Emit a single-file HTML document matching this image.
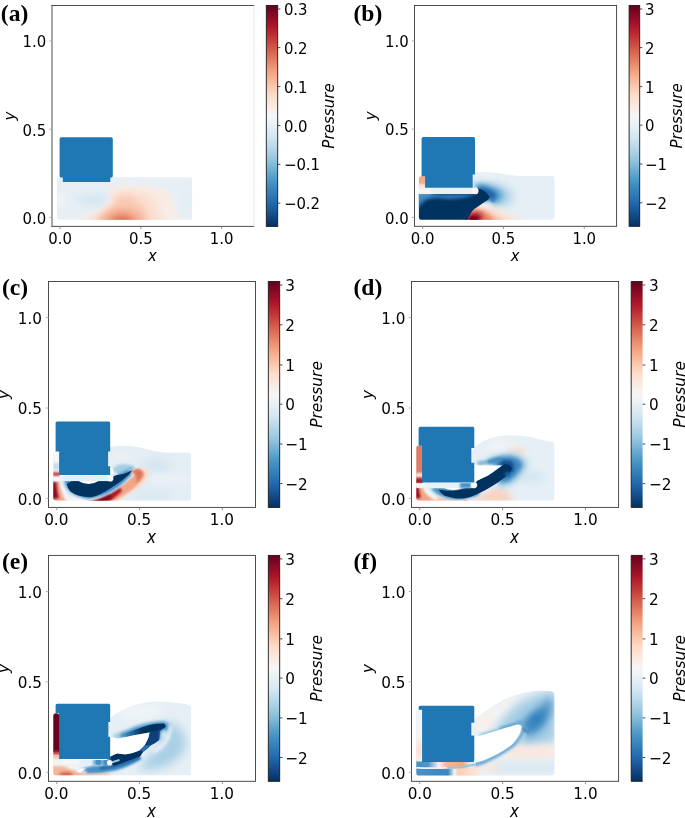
<!DOCTYPE html>
<html><head><meta charset="utf-8"><title>Pressure field panels</title>
<style>
html,body{margin:0;padding:0;background:#fff}
svg{display:block}
.t{font-family:"DejaVu Sans","Liberation Sans",sans-serif;fill:#000}
.i{font-family:"DejaVu Sans","Liberation Sans",sans-serif;font-style:italic;fill:#000}
.pl{font-family:"Liberation Serif","DejaVu Serif",serif;font-weight:bold;fill:#000}
</style></head><body>
<svg width="685" height="818" viewBox="0 0 685 818">
<defs><linearGradient id="cb" x1="0" y1="0" x2="0" y2="1"><stop offset="0.00%" stop-color="#67001f"/><stop offset="3.12%" stop-color="#7c0722"/><stop offset="6.25%" stop-color="#930e26"/><stop offset="9.38%" stop-color="#ab162a"/><stop offset="12.50%" stop-color="#ba2832"/><stop offset="15.62%" stop-color="#c53e3d"/><stop offset="18.75%" stop-color="#d05548"/><stop offset="21.88%" stop-color="#db6b55"/><stop offset="25.00%" stop-color="#e48066"/><stop offset="28.12%" stop-color="#ee9677"/><stop offset="31.25%" stop-color="#f5aa89"/><stop offset="34.38%" stop-color="#f8bb9e"/><stop offset="37.50%" stop-color="#fbccb4"/><stop offset="40.62%" stop-color="#fddcc9"/><stop offset="43.75%" stop-color="#fbe5d8"/><stop offset="46.88%" stop-color="#f9eee7"/><stop offset="50.00%" stop-color="#f7f6f6"/><stop offset="53.12%" stop-color="#ecf2f5"/><stop offset="56.25%" stop-color="#e0ecf3"/><stop offset="59.38%" stop-color="#d4e6f1"/><stop offset="62.50%" stop-color="#c2ddec"/><stop offset="65.62%" stop-color="#aed3e6"/><stop offset="68.75%" stop-color="#9bc9e0"/><stop offset="71.88%" stop-color="#84bcd9"/><stop offset="75.00%" stop-color="#6bacd1"/><stop offset="78.12%" stop-color="#529dc8"/><stop offset="81.25%" stop-color="#3f8ec0"/><stop offset="84.38%" stop-color="#3480b9"/><stop offset="87.50%" stop-color="#2a71b2"/><stop offset="90.62%" stop-color="#1f63a8"/><stop offset="93.75%" stop-color="#175290"/><stop offset="96.88%" stop-color="#0e4179"/><stop offset="100.00%" stop-color="#053061"/></linearGradient>
<filter id="b1" filterUnits="userSpaceOnUse" x="0" y="0" width="685" height="818"><feGaussianBlur stdDeviation="1"/></filter>
<filter id="b15" filterUnits="userSpaceOnUse" x="0" y="0" width="685" height="818"><feGaussianBlur stdDeviation="1.5"/></filter>
<filter id="b2" filterUnits="userSpaceOnUse" x="0" y="0" width="685" height="818"><feGaussianBlur stdDeviation="2"/></filter>
<filter id="b3" filterUnits="userSpaceOnUse" x="0" y="0" width="685" height="818"><feGaussianBlur stdDeviation="3"/></filter>
<filter id="b4" filterUnits="userSpaceOnUse" x="0" y="0" width="685" height="818"><feGaussianBlur stdDeviation="4"/></filter>
<filter id="b5" filterUnits="userSpaceOnUse" x="0" y="0" width="685" height="818"><feGaussianBlur stdDeviation="5"/></filter>
<filter id="b7" filterUnits="userSpaceOnUse" x="0" y="0" width="685" height="818"><feGaussianBlur stdDeviation="7"/></filter>
<filter id="b05" filterUnits="userSpaceOnUse" x="0" y="0" width="685" height="818"><feGaussianBlur stdDeviation="0.5"/></filter>
</defs>
<rect width="685" height="818" fill="#fff"/>
<g id="panel-a">
<clipPath id="ca"><rect x="56.9" y="177.3" width="135.2" height="42.4" rx="2.2"/></clipPath>
<g clip-path="url(#ca)">
<rect x="50" y="170" width="150" height="56" fill="#e7eff5"/>
<ellipse cx="93" cy="200" rx="18" ry="5" fill="#d2e4f0" filter="url(#b4)"/>
<ellipse cx="62" cy="200" rx="4" ry="7" fill="#f1f4f6" filter="url(#b3)"/>
<path d="M70 226 L100 210 L110.5 205 L111 189 L128 187.5 L150 188.5 L166 192 L174 204 L180 226Z" fill="#f9ede7" filter="url(#b3)"/>
<path d="M111.5 204 L112.5 188.5 L132 187 L152 188 L168 192 L172 206 L130 214Z" fill="#faeae3" filter="url(#b2)"/>
<path d="M78 226 L104 210 L112 205 L113 192 L128 190 L146 193 L156 202 L166 226Z" fill="#fbdfd1" filter="url(#b3)"/>
<path d="M88 226 L108 212 L114 204 L118 197 L130 196 L142 204 L152 226Z" fill="#f9c9b2" filter="url(#b3)"/>
<ellipse cx="122" cy="222" rx="20" ry="12" fill="#f2a080" filter="url(#b4)"/>
<ellipse cx="122" cy="222" rx="10" ry="6" fill="#dc6d57" filter="url(#b3)"/>
<ellipse cx="186" cy="200" rx="5" ry="16" fill="#e3edf4" filter="url(#b3)"/>
</g>
<path d="M61.2 137.3H111.2Q112.8 137.3 112.8 138.9V175.9Q112.8 177.5 111.2 177.5H110.3V182H62.8V177.5H61.2Q59.6 177.5 59.6 175.9V138.9Q59.6 137.3 61.2 137.3Z" fill="#1f77b4"/>

<path d="M52.0 5.5H253.9M52.0 226.4H253.9M52.0 5.5V226.4" fill="none" stroke="#3a3a3a" stroke-width="0.90" stroke-linecap="square"/>
<path d="M253.9 5.5V226.4" fill="none" stroke="#e4e4e4" stroke-width="0.90"/>
<path d="M60.08 226.4v2.70" stroke="#888" stroke-width="0.90"/>
<text transform="translate(60.08 243.80) scale(1 1.06)" font-size="14.90" text-anchor="middle" class="t">0.0</text>
<path d="M140.84 226.4v2.70" stroke="#888" stroke-width="0.90"/>
<text transform="translate(140.84 243.80) scale(1 1.06)" font-size="14.90" text-anchor="middle" class="t">0.5</text>
<path d="M221.60 226.4v2.70" stroke="#888" stroke-width="0.90"/>
<text transform="translate(221.60 243.80) scale(1 1.06)" font-size="14.90" text-anchor="middle" class="t">1.0</text>
<path d="M52.0 217.56h-2.70" stroke="#aaa" stroke-width="0.90"/>
<text transform="translate(46.20 223.86) scale(1 1.06)" font-size="14.90" text-anchor="end" class="t">0.0</text>
<path d="M52.0 129.20h-2.70" stroke="#aaa" stroke-width="0.90"/>
<text transform="translate(46.20 135.50) scale(1 1.06)" font-size="14.90" text-anchor="end" class="t">0.5</text>
<path d="M52.0 40.84h-2.70" stroke="#aaa" stroke-width="0.90"/>
<text transform="translate(46.20 47.14) scale(1 1.06)" font-size="14.90" text-anchor="end" class="t">1.0</text>
<text transform="translate(152.45 261.30) scale(1 1.11)" font-size="14.80" text-anchor="middle" class="i">x</text>
<text transform="translate(15.20 115.95) rotate(-90)" font-size="15.10" text-anchor="middle" class="i">y</text>
<rect x="266.3" y="5.5" width="11.40" height="220.90" fill="url(#cb)" stroke="#1a1a1a" stroke-width="0.90"/>
<path d="M277.7 9.00h2.70" stroke="#3a3a3a" stroke-width="0.90"/>
<text transform="translate(283.90 15.00) scale(1 1.06)" font-size="14.90" class="t">0.3</text>
<path d="M277.7 47.60h2.70" stroke="#3a3a3a" stroke-width="0.90"/>
<text transform="translate(283.90 53.60) scale(1 1.06)" font-size="14.90" class="t">0.2</text>
<path d="M277.7 86.60h2.70" stroke="#3a3a3a" stroke-width="0.90"/>
<text transform="translate(283.90 92.60) scale(1 1.06)" font-size="14.90" class="t">0.1</text>
<path d="M277.7 125.50h2.70" stroke="#3a3a3a" stroke-width="0.90"/>
<text transform="translate(283.90 131.50) scale(1 1.06)" font-size="14.90" class="t">0.0</text>
<path d="M277.7 164.30h2.70" stroke="#3a3a3a" stroke-width="0.90"/>
<text transform="translate(283.90 170.30) scale(1 1.06)" font-size="14.90" class="t">−0.1</text>
<path d="M277.7 203.20h2.70" stroke="#3a3a3a" stroke-width="0.90"/>
<text transform="translate(283.90 209.20) scale(1 1.06)" font-size="14.90" class="t">−0.2</text>
<text transform="translate(333.70 115.95) rotate(-90)" font-size="15.10" text-anchor="middle" class="i">Pressure</text>
<text x="0.8" y="21.2" font-size="23.6" class="pl">(a)</text>
</g>
<g id="panel-b">
<clipPath id="cb_"><path d="M421 188H472.7V174.5Q472.7 172.3 476 172.2Q490 171.6 505 174.2Q515 176 524 176H552.2Q554.5 176 554.5 178.3V217.4Q554.5 219.7 552.2 219.7H421.2Q418.9 219.7 418.9 217.4V178.5Q418.9 176.2 421.2 176.2H425.5V188Z"/></clipPath>
<g clip-path="url(#cb_)">
<rect x="410" y="165" width="150" height="60" fill="#e6eff5"/>
<ellipse cx="486" cy="177" rx="9" ry="3.5" fill="#f4f6f7" filter="url(#b3)"/>
<!-- halo around tip -->
<path d="M474 183 Q492 181 510 190 Q516 198 508 205 Q498 206 488 203 Z" fill="#a9cfe5" filter="url(#b5)"/>
<path d="M474 185 Q490 183 502 192 Q504 199 497 203 L486 201Z" fill="#4f9bcb" filter="url(#b3)"/>
<path d="M476 186 Q488 186 496 194 Q497 199 492 201 L482 196Z" fill="#1f63a8" filter="url(#b2)"/>
<!-- below tip light blue -->
<ellipse cx="490" cy="205" rx="6" ry="3" fill="#b5d5e8" filter="url(#b2)"/>
<!-- red/pink bottom -->
<path d="M466 226 L474 209 Q482 203 494 208 Q512 214 532 226 Z" fill="#fbe6db" filter="url(#b3)"/>
<path d="M466 226 L473 210 Q480 206 488 211 Q500 216 512 226 Z" fill="#f7c2a8" filter="url(#b3)"/>
<path d="M466 226 L472 211 Q478 207 485 212 Q492 217 498 226 Z" fill="#e58368" filter="url(#b2)"/>
<ellipse cx="474.5" cy="218" rx="8" ry="5.5" fill="#a3142a" filter="url(#b2)"/>
<ellipse cx="473.5" cy="219" rx="5" ry="3" fill="#75061f" filter="url(#b1)"/>
<!-- white streak between -->
<path d="M480 207 Q486 204 492 207" stroke="#f7f7f7" stroke-width="2.5" fill="none" filter="url(#b15)"/>
<!-- navy region -->
<path d="M415 193 H476 L478 188.2 Q482 189.5 484.4 191 Q487.5 193.5 489.8 197 Q489 199 487.9 199.9 Q484 202 480.9 204.5 Q478 206.5 475 208.6 Q472 211 470.4 213.9 Q468 217 466.5 224 H415 Z" fill="#053061" filter="url(#b05)"/>
<path d="M490 198 Q493 200 494.5 202" stroke="#2f79b5" stroke-width="2.5" fill="none" filter="url(#b1)"/>
<!-- lighter band within navy -->
<path d="M417 194 H477 Q462 200 446 199 Q432 197 425 201 Q420 205 417 210 Z" fill="#2e73b3" filter="url(#b15)"/>
<path d="M417 194 H440 Q428 196 422 199 L417 203Z" fill="#4a90c4" filter="url(#b15)"/>
<!-- white band -->
<rect x="417" y="187.7" width="60" height="6.3" fill="#e9f0f5"/>
<rect x="417" y="188.5" width="14" height="5" fill="#f7f7f7" filter="url(#b1)"/>
<!-- orange blob -->
<rect x="418" y="176" width="8" height="10.5" fill="#f2a98a"/>
<rect x="418" y="184" width="8" height="5" fill="#f7e6dd" filter="url(#b1)"/>
</g>
<circle cx="475.3" cy="191" r="3.2" fill="#f7f7f7"/>
<path d="M423.2 137H473.4Q475 137 475 138.6V174.6H472.7V187.7H425.1V176.3H421.6V138.6Q421.6 137 423.2 137Z" fill="#1f77b4"/>

<rect x="414.5" y="5.5" width="202.10" height="220.80" fill="none" stroke="#3a3a3a" stroke-width="0.90"/>
<path d="M422.58 226.3v2.70" stroke="#888" stroke-width="0.90"/>
<text transform="translate(422.58 243.70) scale(1 1.06)" font-size="14.90" text-anchor="middle" class="t">0.0</text>
<path d="M503.42 226.3v2.70" stroke="#888" stroke-width="0.90"/>
<text transform="translate(503.42 243.70) scale(1 1.06)" font-size="14.90" text-anchor="middle" class="t">0.5</text>
<path d="M584.26 226.3v2.70" stroke="#888" stroke-width="0.90"/>
<text transform="translate(584.26 243.70) scale(1 1.06)" font-size="14.90" text-anchor="middle" class="t">1.0</text>
<path d="M414.5 217.47h-2.70" stroke="#aaa" stroke-width="0.90"/>
<text transform="translate(408.70 223.77) scale(1 1.06)" font-size="14.90" text-anchor="end" class="t">0.0</text>
<path d="M414.5 129.15h-2.70" stroke="#aaa" stroke-width="0.90"/>
<text transform="translate(408.70 135.45) scale(1 1.06)" font-size="14.90" text-anchor="end" class="t">0.5</text>
<path d="M414.5 40.83h-2.70" stroke="#aaa" stroke-width="0.90"/>
<text transform="translate(408.70 47.13) scale(1 1.06)" font-size="14.90" text-anchor="end" class="t">1.0</text>
<text transform="translate(515.05 261.20) scale(1 1.11)" font-size="14.80" text-anchor="middle" class="i">x</text>
<text transform="translate(376.20 115.90) rotate(-90)" font-size="15.10" text-anchor="middle" class="i">y</text>
<rect x="629.1" y="5.5" width="10.60" height="220.80" fill="url(#cb)" stroke="#1a1a1a" stroke-width="0.90"/>
<path d="M639.7 9.00h2.70" stroke="#3a3a3a" stroke-width="0.90"/>
<text transform="translate(645.10 15.00) scale(1 1.06)" font-size="14.90" class="t">3</text>
<path d="M639.7 47.60h2.70" stroke="#3a3a3a" stroke-width="0.90"/>
<text transform="translate(645.10 53.60) scale(1 1.06)" font-size="14.90" class="t">2</text>
<path d="M639.7 86.60h2.70" stroke="#3a3a3a" stroke-width="0.90"/>
<text transform="translate(645.10 92.60) scale(1 1.06)" font-size="14.90" class="t">1</text>
<path d="M639.7 125.20h2.70" stroke="#3a3a3a" stroke-width="0.90"/>
<text transform="translate(645.10 131.20) scale(1 1.06)" font-size="14.90" class="t">0</text>
<path d="M639.7 164.00h2.70" stroke="#3a3a3a" stroke-width="0.90"/>
<text transform="translate(645.10 170.00) scale(1 1.06)" font-size="14.90" class="t">−1</text>
<path d="M639.7 202.80h2.70" stroke="#3a3a3a" stroke-width="0.90"/>
<text transform="translate(645.10 208.80) scale(1 1.06)" font-size="14.90" class="t">−2</text>
<text transform="translate(681.80 115.90) rotate(-90)" font-size="15.10" text-anchor="middle" class="i">Pressure</text>
<text x="353.5" y="21.2" font-size="23.6" class="pl">(b)</text>
</g>
<g id="panel-c">
<clipPath id="cc"><path d="M53.3 453.5Q53.3 451.6 55.2 451.6H60V476H108.2V449.5Q108.2 447.6 112 446.8Q127 444.2 140 447.5Q155 452 168 452.8H188.8Q191.1 452.8 191.1 455.1V498.2Q191.1 500.5 188.8 500.5H55.6Q53.3 500.5 53.3 498.2Z"/></clipPath>
<g clip-path="url(#cc)">
<rect x="45" y="440" width="150" height="65" fill="#e3edf4"/>
<!-- right field subtle -->
<ellipse cx="156" cy="465" rx="14" ry="6" fill="#d2e4f0" filter="url(#b5)"/>
<ellipse cx="120" cy="456" rx="9" ry="5" fill="#edf2f5" filter="url(#b4)"/>
<path d="M150 479 H192" stroke="#f0f4f6" stroke-width="5" filter="url(#b3)"/>
<ellipse cx="152" cy="496" rx="20" ry="5" fill="#d8e8f1" filter="url(#b4)"/>
<!-- light blue lens -->
<path d="M112.5 469.5 Q116 464.2 124 464 Q131.5 464.6 135 467.5 Q129 472 122 475.5 Q116 473.5 112.5 469.5Z" fill="#a6cde4" filter="url(#b1)"/>
<path d="M118 474 Q126 471 133 467.5" stroke="#7ab3d8" stroke-width="2" fill="none" filter="url(#b1)"/>
<!-- outer light pink -->
<path d="M112 504 Q130 494 141 486 Q149 478 148.5 473 Q147 467.5 140 467.5 L138 476 Q130 486 110 498Z" fill="#fbdccb" filter="url(#b15)"/>
<!-- salmon region -->
<path d="M84 504 L92 499 Q104 496 114 490 Q124 484 130 477 Q136 473.5 131 472.5 Q133 469.5 138.5 469 Q144 469.8 144.6 474.6 Q142 480.5 134 488 Q124 496 108 504Z" fill="#f2a585" filter="url(#b1)"/>
<path d="M131.5 472.2 Q134 469 139 469.4 Q143.5 471 142.6 476 Q140 480.5 136 484 Q138.5 476.5 131.5 472.2Z" fill="#df755d" filter="url(#b1)"/>
<!-- bottom dark red streak -->
<path d="M82 504 Q98 499 108 494.5 Q115 491 120 487.5 L122 491 Q116 497 106 504Z" fill="#b2182b" filter="url(#b1)"/>
<path d="M86 504 Q100 498.5 109 494.5 L112 497.5 Q106 501 100 504Z" fill="#7a0820" filter="url(#b1)"/>
<!-- left red -->
<path d="M50 481 H60 Q60.5 488 62 493 Q63.5 499 68 504 H50Z" fill="#f2a585" filter="url(#b15)"/>
<path d="M50 482 H56.5 Q57 492 59 498 L50 499.5Z" fill="#8e0d25" filter="url(#b1)"/>
<path d="M61.5 481 Q62.5 492 69 501" stroke="#f7f7f7" stroke-width="2.4" fill="none" filter="url(#b1)"/>
<!-- white between crescent and red -->
<path d="M70 498.5 Q90 502.5 105 494 Q118 487 128 478.5 Q131 476 134 474" stroke="#f7f7f7" stroke-width="2.4" fill="none" filter="url(#b1)"/>
<!-- mid-blue fringe around crescent -->
<path d="M63 481 Q65 496 88 499.6 Q104 498 118 488 Q127 481 132.5 474 L128 470 Q118 476 108 480 H63Z" fill="#a6cde4" filter="url(#b1)"/>
<path d="M65 481 Q67 494.5 88 498.4 Q104 496.5 117 487.5 Q126 480.5 131.5 474 L128 470 Q118 476 108 480 H65Z" fill="#3f8ec4" filter="url(#b1)"/>
<!-- navy crescent -->
<path d="M66.8 484 Q69 482.3 71.9 481 H104 Q110 481 114.2 476 Q117 475 120 474.6 Q124 473.8 127.4 472.4 Q130 471 131.8 470.2 Q132 471.5 129.6 473.8 Q126 477.3 122 480.4 Q117 484 112 487.2 Q106.5 491 101.1 493.8 Q96 496.6 90.9 497.2 Q85 497.3 79.2 495.8 Q74 494 70.4 491.4 Q67.5 488 66.8 484Z" fill="#053061" filter="url(#b05)"/>
<!-- white lens under band -->
<path d="M78.5 481 H98.5 Q94 484 88.5 484 Q83 484 78.5 481Z" fill="#fff"/>
<!-- band -->
<rect x="52" y="475.1" width="57" height="6" fill="#e4eef5"/>
<rect x="52" y="475.5" width="10" height="5" fill="#f7f7f7" filter="url(#b1)"/>
<ellipse cx="90" cy="478" rx="4" ry="2.5" fill="#fbe9e0" filter="url(#b1)"/>
<!-- left strip -->
<rect x="52" y="451" width="8" height="25" fill="#f7f7f7"/>
<rect x="52" y="463" width="8" height="7" fill="#c3dcec" filter="url(#b15)"/>
<rect x="52" y="472.3" width="8" height="3.5" fill="#c43a3a" filter="url(#b1)"/>
</g>
<!-- white gap right of box -->
<path d="M108 464 Q110 467 113 469.5 Q114 472 113 474 L108 476Z" fill="#fff"/>
<circle cx="110.3" cy="478.4" r="3.1" fill="#f7f7f7"/>
<path d="M57.2 421.4H108.6Q110.2 421.4 110.2 423V451.6H108.1V466.3H110.2V475.1H59.1V451.6H55.6V423Q55.6 421.4 57.2 421.4Z" fill="#1f77b4"/>

<rect x="48.5" y="281.5" width="207.00" height="225.90" fill="none" stroke="#3a3a3a" stroke-width="0.90"/>
<path d="M56.78 507.4v2.76" stroke="#888" stroke-width="0.90"/>
<text transform="translate(56.28 525.18) scale(1 1.06)" font-size="15.25" text-anchor="middle" class="t">0.0</text>
<path d="M139.58 507.4v2.76" stroke="#888" stroke-width="0.90"/>
<text transform="translate(139.08 525.18) scale(1 1.06)" font-size="15.25" text-anchor="middle" class="t">0.5</text>
<path d="M222.38 507.4v2.76" stroke="#888" stroke-width="0.90"/>
<text transform="translate(221.88 525.18) scale(1 1.06)" font-size="15.25" text-anchor="middle" class="t">1.0</text>
<path d="M48.5 498.36h-2.76" stroke="#aaa" stroke-width="0.90"/>
<text transform="translate(42.07 504.80) scale(1 1.06)" font-size="15.25" text-anchor="end" class="t">0.0</text>
<path d="M48.5 408.00h-2.76" stroke="#aaa" stroke-width="0.90"/>
<text transform="translate(42.07 414.44) scale(1 1.06)" font-size="15.25" text-anchor="end" class="t">0.5</text>
<path d="M48.5 317.64h-2.76" stroke="#aaa" stroke-width="0.90"/>
<text transform="translate(42.07 324.08) scale(1 1.06)" font-size="15.25" text-anchor="end" class="t">1.0</text>
<text transform="translate(151.50 543.07) scale(1 1.11)" font-size="15.13" text-anchor="middle" class="i">x</text>
<text transform="translate(9.20 394.45) rotate(-90)" font-size="15.43" text-anchor="middle" class="i">y</text>
<rect x="268.3" y="281.5" width="11.40" height="225.90" fill="url(#cb)" stroke="#1a1a1a" stroke-width="0.90"/>
<path d="M279.7 285.00h2.76" stroke="#3a3a3a" stroke-width="0.90"/>
<text transform="translate(285.24 291.13) scale(1 1.06)" font-size="15.25" class="t">3</text>
<path d="M279.7 324.80h2.76" stroke="#3a3a3a" stroke-width="0.90"/>
<text transform="translate(285.24 330.93) scale(1 1.06)" font-size="15.25" class="t">2</text>
<path d="M279.7 365.00h2.76" stroke="#3a3a3a" stroke-width="0.90"/>
<text transform="translate(285.24 371.13) scale(1 1.06)" font-size="15.25" class="t">1</text>
<path d="M279.7 404.20h2.76" stroke="#3a3a3a" stroke-width="0.90"/>
<text transform="translate(285.24 410.33) scale(1 1.06)" font-size="15.25" class="t">0</text>
<path d="M279.7 444.00h2.76" stroke="#3a3a3a" stroke-width="0.90"/>
<text transform="translate(285.24 450.13) scale(1 1.06)" font-size="15.25" class="t">−1</text>
<path d="M279.7 483.60h2.76" stroke="#3a3a3a" stroke-width="0.90"/>
<text transform="translate(285.24 489.73) scale(1 1.06)" font-size="15.25" class="t">−2</text>
<text transform="translate(322.00 394.45) rotate(-90)" font-size="15.43" text-anchor="middle" class="i">Pressure</text>
<text x="2" y="295.2" font-size="23.6" class="pl">(c)</text>
</g>
<g id="panel-d">
<clipPath id="cd"><path d="M416.3 447.7Q416.3 445.8 418.2 445.8H423V483H471V447.5H474.4Q476 445.8 478.5 444Q484 440.6 490.2 438.2Q498 435.8 507.7 435.3Q520 435.6 531 437Q540 439.5 546 441Q549 441.5 552.1 441.5Q554.4 441.6 554.4 443.9V498.2Q554.4 500.5 552.1 500.5H418.6Q416.3 500.5 416.3 498.2Z"/></clipPath>
<g clip-path="url(#cd)">
<rect x="410" y="430" width="150" height="75" fill="#e6eff5"/>
<ellipse cx="500" cy="447" rx="16" ry="6" fill="#f0f4f6" filter="url(#b4)"/>
<ellipse cx="517.5" cy="451.3" rx="9" ry="3" fill="#fbd9c7" filter="url(#b3)"/>
<ellipse cx="533" cy="477" rx="12" ry="5" fill="#cfe3ef" filter="url(#b5)"/>
<!-- pink bottom right of crescent -->
<path d="M466 503 Q482 495 496 488 Q506 490 512 496 L510 503Z" fill="#fad2bf" filter="url(#b3)"/>
<!-- blue head -->
<path d="M486 460 Q498 453 512 453.5 Q527 456 528 464 Q524 475 514 483 Q506 488 498 488 L498 470Z" fill="#a6cde4" filter="url(#b3)"/>
<path d="M490 461 Q500 455.5 512 456.5 Q523 459 522.5 466 Q518 475 509 481.5 L499 483 L500 468Z" fill="#3b87c0" filter="url(#b2)"/>
<path d="M497 461.5 Q505 459 512 461.5 Q516 466 513 472 L504 476 L502 466Z" fill="#14508f" filter="url(#b15)"/>
<path d="M477.5 463.4 Q486 462.5 500 459.5" stroke="#6aaad2" stroke-width="3.5" fill="none" filter="url(#b15)"/>
<path d="M488 462 Q494 461 502 459" stroke="#3b87c0" stroke-width="3.5" fill="none" filter="url(#b15)"/>
<!-- bottom-left pink -->
<path d="M420 503 V495 Q440 498.5 466 499.5 V503Z" fill="#f7bfa5" filter="url(#b1)"/>
<path d="M415 487 H423 Q425 494 434 500 L420 503 H415Z" fill="#f4a582" filter="url(#b15)"/>
<path d="M415 486.5 H418.6 Q419.2 493 421 497.5 L415 499Z" fill="#9b1127" filter="url(#b1)"/>
<path d="M424.5 487.5 Q427.5 494.5 437 499.3" stroke="#f7f7f7" stroke-width="2.8" fill="none" filter="url(#b1)"/>
<!-- mid-blue fringe of crescent -->
<path d="M429 488 Q436 498 456 500.2 Q470 499.5 480 495 L480 488Z" fill="#a6cde4" filter="url(#b1)"/>
<path d="M432 488 Q438 497.5 456 499.3 Q468 499 478 495 L480 488Z" fill="#4393c3" filter="url(#b1)"/>
<!-- navy crescent -->
<path d="M438.7 489.6 Q443 490.6 447.5 490.8 Q453 491 457.7 490.2 Q464 489 469.4 487 Q473 484.5 477.4 480.4 Q483 478 488.4 475.3 Q494 471.5 498.6 468 Q501.5 465.8 504.4 464.2 Q510 464 512 468.6 Q510.5 473 505.9 476.4 Q502 479.5 498.6 481.9 Q493 485.6 486.9 489.2 Q481 492.5 475.2 495 Q470 497.5 465 498.2 Q460 498.8 454.8 498.2 Q449 497.3 444.6 495.8 Q440.5 493.5 438.7 489.6Z" fill="#053061" filter="url(#b05)"/>
<circle cx="507.5" cy="474.3" r="2.6" fill="#1f5fa3" filter="url(#b1)"/>
<path d="M463 500.8 Q465.5 498.2 468.5 500.8Z" fill="#ef8f6e"/>
<!-- white lens -->
<path d="M444 488 H463 Q458 490 453 490 Q448 490 444 488Z" fill="#fff"/>
<!-- band -->
<rect x="415" y="482.5" width="60" height="5.6" fill="#e9f1f6"/>
<rect x="460" y="482.5" width="11" height="5.6" fill="#4a90c4" filter="url(#b1)"/>
<!-- left strip -->
<rect x="415" y="445" width="8" height="38" fill="#e27b62"/>
<rect x="415" y="473" width="8" height="4" fill="#fbe9e0" filter="url(#b1)"/>
<rect x="415" y="478.5" width="8" height="4.5" fill="#a5172b" filter="url(#b1)"/>
<rect x="415" y="483.3" width="10" height="3" fill="#f7f7f7" filter="url(#b05)"/>
</g>
<!-- white wedge -->
<path d="M470.5 447.3 H474.4 Q472.4 449.5 472.1 452.2 V459.2 Q472.6 462.5 475.6 464.2 Q476.5 465.4 478.5 465.5 L502.5 465.6 L504.6 464 Q501.5 465.8 498.6 468 Q494 471.5 488.4 475.3 Q483 478 477.4 480.4 L475 483 L470.5 482.5Z" fill="#fff"/>
<circle cx="474.1" cy="485.1" r="3.1" fill="#f7f7f7"/>
<path d="M420.2 426.8H472.7Q474.3 426.8 474.3 428.4V448.1H471.4V462.8H474.3V482.5H422.1V445.8H418.6V428.4Q418.6 426.8 420.2 426.8Z" fill="#1f77b4"/>

<rect x="411.5" y="281.5" width="207.10" height="225.90" fill="none" stroke="#3a3a3a" stroke-width="0.90"/>
<path d="M419.78 507.4v2.76" stroke="#888" stroke-width="0.90"/>
<text transform="translate(419.78 525.18) scale(1 1.06)" font-size="15.25" text-anchor="middle" class="t">0.0</text>
<path d="M502.62 507.4v2.76" stroke="#888" stroke-width="0.90"/>
<text transform="translate(502.62 525.18) scale(1 1.06)" font-size="15.25" text-anchor="middle" class="t">0.5</text>
<path d="M585.46 507.4v2.76" stroke="#888" stroke-width="0.90"/>
<text transform="translate(585.46 525.18) scale(1 1.06)" font-size="15.25" text-anchor="middle" class="t">1.0</text>
<path d="M411.5 498.36h-2.76" stroke="#aaa" stroke-width="0.90"/>
<text transform="translate(405.57 504.80) scale(1 1.06)" font-size="15.25" text-anchor="end" class="t">0.0</text>
<path d="M411.5 408.00h-2.76" stroke="#aaa" stroke-width="0.90"/>
<text transform="translate(405.57 414.44) scale(1 1.06)" font-size="15.25" text-anchor="end" class="t">0.5</text>
<path d="M411.5 317.64h-2.76" stroke="#aaa" stroke-width="0.90"/>
<text transform="translate(405.57 324.08) scale(1 1.06)" font-size="15.25" text-anchor="end" class="t">1.0</text>
<text transform="translate(514.55 543.07) scale(1 1.11)" font-size="15.13" text-anchor="middle" class="i">x</text>
<text transform="translate(372.80 394.45) rotate(-90)" font-size="15.43" text-anchor="middle" class="i">y</text>
<rect x="631.2" y="281.5" width="11.40" height="225.90" fill="url(#cb)"/>
<path d="M642.6 281.5H631.2V507.4H642.6" fill="none" stroke="#1a1a1a" stroke-width="0.90"/>
<path d="M642.6 285.00h2.76" stroke="#3a3a3a" stroke-width="0.90"/>
<text transform="translate(648.94 291.13) scale(1 1.06)" font-size="15.25" class="t">3</text>
<path d="M642.6 324.80h2.76" stroke="#3a3a3a" stroke-width="0.90"/>
<text transform="translate(648.94 330.93) scale(1 1.06)" font-size="15.25" class="t">2</text>
<path d="M642.6 365.00h2.76" stroke="#3a3a3a" stroke-width="0.90"/>
<text transform="translate(648.94 371.13) scale(1 1.06)" font-size="15.25" class="t">1</text>
<path d="M642.6 404.20h2.76" stroke="#3a3a3a" stroke-width="0.90"/>
<text transform="translate(648.94 410.33) scale(1 1.06)" font-size="15.25" class="t">0</text>
<path d="M642.6 444.00h2.76" stroke="#3a3a3a" stroke-width="0.90"/>
<text transform="translate(648.94 450.13) scale(1 1.06)" font-size="15.25" class="t">−1</text>
<path d="M642.6 483.60h2.76" stroke="#3a3a3a" stroke-width="0.90"/>
<text transform="translate(648.94 489.73) scale(1 1.06)" font-size="15.25" class="t">−2</text>
<text transform="translate(685.00 394.45) rotate(-90)" font-size="15.43" text-anchor="middle" class="i">Pressure</text>
<text x="353.5" y="295.2" font-size="23.6" class="pl">(d)</text>
</g>
<g id="panel-e">
<clipPath id="ce"><path d="M53.3 716Q53.3 713.3 56.2 713.3Q59.1 713.3 60 716V760H107.5V722H110.2Q110.6 718 112.6 716Q120 711 127.2 708Q136 704.5 144.7 702.6Q152 701.5 159.3 701.5Q170 702 179.8 703.2Q186 704 189 705Q191 705.8 191 708.1V773Q191 775.3 188.7 775.3H55.6Q53.3 775.3 53.3 773Z"/></clipPath>
<g clip-path="url(#ce)">
<rect x="45" y="695" width="150" height="85" fill="#e6eff5"/>
<ellipse cx="140" cy="712" rx="22" ry="7" fill="#f0f4f6" filter="url(#b4)"/>
<!-- halo right -->
<path d="M168 720 Q186 728 186 746 Q180 762 160 768 Q150 770 138 770 L150 754 Q168 746 168 720Z" fill="#aacfe6" filter="url(#b5)"/>
<!-- arm gradient -->
<path d="M112 735 Q122 731.5 136.5 725.3 Q151 720.5 164.2 720.4 Q172 722 172 728 Q168 738 158 742 L150 733 Q134 736 117.5 739.6Z" fill="#a6cde4" filter="url(#b15)"/>
<path d="M120 734 Q128 731 136.5 727 Q151 722.5 164.2 722 Q169 724 168 729 Q164 736 158 739 L150 733 Q134 736 121 738.6Z" fill="#3f8ec4" filter="url(#b15)"/>
<!-- navy arm -->
<linearGradient id="earm" gradientUnits="userSpaceOnUse" x1="124" y1="0" x2="142" y2="0"><stop offset="0" stop-color="#3f8ec4"/><stop offset="1" stop-color="#053061"/></linearGradient>
<path d="M124 734 Q136 729 149 725 Q157 723.5 163.7 723.6 Q166.5 725 165 727.5 Q161 731 156.4 732.4 Q152 732.4 149.6 732.6 Q141 734 126 737.5Z" fill="url(#earm)" filter="url(#b05)"/>
<!-- stem -->
<path d="M149.6 732.4 L160 729.5 Q161 734 159.1 740.1 Q155 744 151.1 745.3 Q147 749 143.8 751 L140.1 756.2 L138 751.5 Q142 748 144.5 745.3 Q147 741 148.2 738Z" fill="#0d417f" filter="url(#b05)"/>
<path d="M145 745.5 L151 745 Q148 748.5 144 751.5 L140.5 750.5Z" fill="#2a6fae" filter="url(#b05)"/>
<!-- head light -->
<ellipse cx="164.3" cy="735" rx="4" ry="5" fill="#cfe2ef" filter="url(#b15)"/>
<path d="M170.5 726 Q170 738 162 746.5 Q158 750 152.6 752" stroke="#f0f4f6" stroke-width="2.6" fill="none" filter="url(#b15)"/>
<!-- lower band mid-blue -->
<path d="M76 772 Q86 765.5 100 765.5 Q112 765.5 122 763 Q130 760 139 756.5 L141.5 759 Q130 766.5 116 770.5 Q100 774.5 84 774Z" fill="#4a90c4" filter="url(#b1)"/>
<path d="M100 768 Q114 767 126 762.5 Q134 759.5 140 757" stroke="#1f63a8" stroke-width="3" fill="none" filter="url(#b1)"/>
<!-- navy stem lower -->
<path d="M109.5 757 Q113 755 117.5 753.2 Q121 754.5 126.3 754.3 Q133 753 139.4 750.4 L142.5 752 L140.1 756.2 Q135 758.5 129.2 760.6 Q122 763.5 114.6 765.7 Q109 764 107 759.5Z" fill="#053061" filter="url(#b05)"/>
<path d="M111 762.8 Q115 761 119.5 760" stroke="#9cc5de" stroke-width="1.8" fill="none" filter="url(#b05)"/>
<!-- bottom left salmon -->
<path d="M50 766 H62 Q70 768 80 772 Q92 776 110 774 V780 H50Z" fill="#f6b599" filter="url(#b15)"/>
<ellipse cx="66" cy="774.5" rx="7" ry="2.5" fill="#d6604d" filter="url(#b15)"/>
<path d="M68 766 Q78 768 86 773" stroke="#f7f7f7" stroke-width="3" fill="none" filter="url(#b15)"/>
<path d="M76 771 Q80 768.5 86 768 Q82 771 80 773Z" fill="#fff" filter="url(#b05)"/>
<!-- band -->
<rect x="52" y="759.1" width="57" height="6" fill="#e6eff5"/>
<rect x="60" y="760" width="20" height="4.5" fill="#f7f7f7" filter="url(#b1)"/>
<rect x="93" y="759.3" width="17" height="6.2" fill="#7ab3d8" filter="url(#b1)"/>
<circle cx="98.4" cy="762" r="3" fill="#4a90c4" filter="url(#b05)"/>
<rect x="103.5" y="759.5" width="7" height="6" fill="#3a85bf" filter="url(#b1)"/>
<!-- left strip -->
<rect x="52" y="712" width="8" height="40" fill="#67001f"/>
<rect x="52" y="751" width="8" height="4" fill="#c2352f" filter="url(#b1)"/>
<rect x="52" y="755" width="8" height="4" fill="#f7c4aa" filter="url(#b1)"/>
<rect x="52" y="759.5" width="8" height="5" fill="#f7f2ee" filter="url(#b1)"/>
</g>
<!-- white wedge -->
<path d="M107 721.8 H110.2 Q108.6 724 108.3 727 V731 Q109 735.5 112.5 737.6 Q115 738.6 117.5 738.4 Q126 737 133.6 735.2 L149.6 732.6 Q148.8 735.5 148.2 738 Q147 741 144.5 745.3 Q142 748 139.4 750.4 Q133 753 126.3 754.3 Q121 754.5 117.5 753.2 Q113 755 109.5 757 L107 757.5Z" fill="#fff"/>
<circle cx="109.6" cy="762.8" r="2.8" fill="#f2f5f8"/>
<path d="M57.2 703.7H108.6Q110.2 703.7 110.2 705.3V722.1H108.4V736.8H110.2V759.1H59.1V713.3H55.6V705.3Q55.6 703.7 57.2 703.7Z" fill="#1f77b4"/>

<rect x="48.5" y="555.4" width="207.00" height="225.90" fill="none" stroke="#3a3a3a" stroke-width="0.90"/>
<path d="M56.78 781.3v2.76" stroke="#888" stroke-width="0.90"/>
<text transform="translate(56.28 799.08) scale(1 1.06)" font-size="15.25" text-anchor="middle" class="t">0.0</text>
<path d="M139.58 781.3v2.76" stroke="#888" stroke-width="0.90"/>
<text transform="translate(139.08 799.08) scale(1 1.06)" font-size="15.25" text-anchor="middle" class="t">0.5</text>
<path d="M222.38 781.3v2.76" stroke="#888" stroke-width="0.90"/>
<text transform="translate(221.88 799.08) scale(1 1.06)" font-size="15.25" text-anchor="middle" class="t">1.0</text>
<path d="M48.5 772.26h-2.76" stroke="#aaa" stroke-width="0.90"/>
<text transform="translate(42.07 778.70) scale(1 1.06)" font-size="15.25" text-anchor="end" class="t">0.0</text>
<path d="M48.5 681.90h-2.76" stroke="#aaa" stroke-width="0.90"/>
<text transform="translate(42.07 688.34) scale(1 1.06)" font-size="15.25" text-anchor="end" class="t">0.5</text>
<path d="M48.5 591.54h-2.76" stroke="#aaa" stroke-width="0.90"/>
<text transform="translate(42.07 597.98) scale(1 1.06)" font-size="15.25" text-anchor="end" class="t">1.0</text>
<text transform="translate(151.50 816.97) scale(1 1.11)" font-size="15.13" text-anchor="middle" class="i">x</text>
<text transform="translate(9.20 668.35) rotate(-90)" font-size="15.43" text-anchor="middle" class="i">y</text>
<rect x="268.3" y="555.4" width="11.40" height="225.90" fill="url(#cb)" stroke="#1a1a1a" stroke-width="0.90"/>
<path d="M279.7 558.90h2.76" stroke="#3a3a3a" stroke-width="0.90"/>
<text transform="translate(285.24 565.03) scale(1 1.06)" font-size="15.25" class="t">3</text>
<path d="M279.7 598.70h2.76" stroke="#3a3a3a" stroke-width="0.90"/>
<text transform="translate(285.24 604.83) scale(1 1.06)" font-size="15.25" class="t">2</text>
<path d="M279.7 638.90h2.76" stroke="#3a3a3a" stroke-width="0.90"/>
<text transform="translate(285.24 645.03) scale(1 1.06)" font-size="15.25" class="t">1</text>
<path d="M279.7 678.10h2.76" stroke="#3a3a3a" stroke-width="0.90"/>
<text transform="translate(285.24 684.23) scale(1 1.06)" font-size="15.25" class="t">0</text>
<path d="M279.7 717.90h2.76" stroke="#3a3a3a" stroke-width="0.90"/>
<text transform="translate(285.24 724.03) scale(1 1.06)" font-size="15.25" class="t">−1</text>
<path d="M279.7 757.50h2.76" stroke="#3a3a3a" stroke-width="0.90"/>
<text transform="translate(285.24 763.63) scale(1 1.06)" font-size="15.25" class="t">−2</text>
<text transform="translate(322.00 668.35) rotate(-90)" font-size="15.43" text-anchor="middle" class="i">Pressure</text>
<text x="2" y="569.0999999999999" font-size="23.6" class="pl">(e)</text>
</g>
<g id="panel-f">
<clipPath id="cf"><path d="M416.3 711.7Q416.3 709.8 418.2 709.8H423V761H471V722.5H474.3Q474.8 720 475.6 718Q483 713 490.2 708Q497 703.5 504.8 699Q512 696 519.4 694Q527 692 534 691Q541 690.6 548.6 691Q551 691.3 552.5 691.8Q554.4 692.6 554.4 695V772.7Q554.4 775.4 552 775.4H418.7Q416.3 775.4 416.3 772.7Z"/></clipPath>
<linearGradient id="fstrip" x1="0" y1="0" x2="0" y2="1"><stop offset="0" stop-color="#eef3f7"/><stop offset="0.5" stop-color="#f3f4f5"/><stop offset="0.8" stop-color="#fbe0d0"/><stop offset="1" stop-color="#f7f0ec"/></linearGradient>
<linearGradient id="frow1" gradientUnits="userSpaceOnUse" x1="416" y1="0" x2="476" y2="0"><stop offset="0" stop-color="#4a90c4"/><stop offset="0.2" stop-color="#4f96c8"/><stop offset="0.38" stop-color="#f2f4f6"/><stop offset="0.5" stop-color="#f7b799"/><stop offset="0.78" stop-color="#f4a582"/><stop offset="0.9" stop-color="#f3e6df"/><stop offset="1" stop-color="#d5e6f1"/></linearGradient>
<linearGradient id="frow2" gradientUnits="userSpaceOnUse" x1="416" y1="0" x2="480" y2="0"><stop offset="0" stop-color="#4a90c4"/><stop offset="0.5" stop-color="#3a85bf"/><stop offset="0.6" stop-color="#f4f4f4"/><stop offset="0.66" stop-color="#fbcdb7"/><stop offset="0.85" stop-color="#fbdccb"/><stop offset="1" stop-color="#f5ebe5"/></linearGradient>
<g clip-path="url(#cf)">
<rect x="410" y="685" width="150" height="95" fill="#e9f1f6"/>
<path d="M474 724 Q488 710 512 698 L520 704 Q500 716 480 732Z" fill="#f6f3f1" filter="url(#b3)"/>
<ellipse cx="486" cy="722" rx="11" ry="6" fill="#f9efea" filter="url(#b3)"/>
<!-- broad blue -->
<path d="M556 690 V742 Q540 744 526 750 L514 745 Q522 734 521 726 Q508 728 492 734 Q502 718 516 705 Q534 693 556 690Z" fill="#a6cde4" filter="url(#b5)"/>
<path d="M552 698 Q552 716 542 728 Q535 735 527 736 Q524 728 519 725.5 Q530 714 552 698Z" fill="#3a87c0" filter="url(#b4)"/>
<ellipse cx="536" cy="719" rx="7" ry="5" fill="#3181bd" filter="url(#b3)" transform="rotate(-35 536 719)"/>
<path d="M480 736.5 Q500 730.5 521 723.5" stroke="#8dbfdc" stroke-width="4.5" fill="none" filter="url(#b15)"/>
<path d="M500 729.5 Q512 725.5 522 722.5" stroke="#5fa5d0" stroke-width="4" fill="none" filter="url(#b15)"/>
<!-- right bands -->
<path d="M506 752 H556" stroke="#f9e7df" stroke-width="14" filter="url(#b3)"/>
<path d="M490 768 H556" stroke="#dce9f2" stroke-width="12" filter="url(#b3)"/>
<path d="M470 767 H500" stroke="#fae6dc" stroke-width="6" filter="url(#b3)"/>
<!-- stem thin blue -->
<path d="M525 729 Q521 739 513 746 Q498 756 483 762.5 Q470 767 452 770" stroke="#b9d7ea" stroke-width="5" fill="none" filter="url(#b1)"/>
<path d="M524 730 Q520 740 512 746 Q498 756 483 762.3 Q472 766 456 769.5" stroke="#4f96c8" stroke-width="2" fill="none" filter="url(#b1)"/>
<path d="M523 728 Q526 733 528.5 731" stroke="#2f79b5" stroke-width="2.5" fill="none" filter="url(#b1)"/>
<!-- under box -->
<rect x="414" y="760" width="62" height="8.4" fill="url(#frow1)" filter="url(#b05)"/>
<rect x="414" y="768.2" width="66" height="9" fill="url(#frow2)" filter="url(#b05)"/>
<path d="M414 767.6 Q432 768.6 447 767.8" stroke="#eef3f7" stroke-width="1.7" fill="none" filter="url(#b05)"/>
<path d="M447 768.2 Q462 767.6 476 764.5" stroke="#9cc5de" stroke-width="2" fill="none" filter="url(#b05)"/>
<!-- left strip -->
<rect x="415" y="709" width="8" height="52.5" fill="url(#fstrip)"/>
</g>
<!-- white wedge -->
<path d="M470.5 722.3 H474.3 Q472.3 724.5 472 727 V731 Q472.6 735 475.5 736.3 Q476.5 736.6 477.5 736.4 Q487 733.6 497.5 730.5 Q508 727 517 724.6 Q521.5 724.2 521.6 727.5 Q521 731 519.4 734.2 Q516 740 512 744.4 Q505 750 497.5 753.9 Q490 757.5 482.9 760.5 Q478 762 474.3 762.3 L470.5 762Z" fill="#fff"/>
<path d="M420.2 705.7H472.7Q474.3 705.7 474.3 707.3V722.7H471.4V735.6H474.3V760.4Q474.3 762 472.7 762H422.1V709.8H418.6V707.3Q418.6 705.7 420.2 705.7Z" fill="#1f77b4"/>

<rect x="411.5" y="555.4" width="207.10" height="225.90" fill="none" stroke="#3a3a3a" stroke-width="0.90"/>
<path d="M419.78 781.3v2.76" stroke="#888" stroke-width="0.90"/>
<text transform="translate(419.78 799.08) scale(1 1.06)" font-size="15.25" text-anchor="middle" class="t">0.0</text>
<path d="M502.62 781.3v2.76" stroke="#888" stroke-width="0.90"/>
<text transform="translate(502.62 799.08) scale(1 1.06)" font-size="15.25" text-anchor="middle" class="t">0.5</text>
<path d="M585.46 781.3v2.76" stroke="#888" stroke-width="0.90"/>
<text transform="translate(585.46 799.08) scale(1 1.06)" font-size="15.25" text-anchor="middle" class="t">1.0</text>
<path d="M411.5 772.26h-2.76" stroke="#aaa" stroke-width="0.90"/>
<text transform="translate(405.57 778.70) scale(1 1.06)" font-size="15.25" text-anchor="end" class="t">0.0</text>
<path d="M411.5 681.90h-2.76" stroke="#aaa" stroke-width="0.90"/>
<text transform="translate(405.57 688.34) scale(1 1.06)" font-size="15.25" text-anchor="end" class="t">0.5</text>
<path d="M411.5 591.54h-2.76" stroke="#aaa" stroke-width="0.90"/>
<text transform="translate(405.57 597.98) scale(1 1.06)" font-size="15.25" text-anchor="end" class="t">1.0</text>
<text transform="translate(514.55 816.97) scale(1 1.11)" font-size="15.13" text-anchor="middle" class="i">x</text>
<text transform="translate(372.80 668.35) rotate(-90)" font-size="15.43" text-anchor="middle" class="i">y</text>
<rect x="631.2" y="555.4" width="11.40" height="225.90" fill="url(#cb)"/>
<path d="M642.6 555.4H631.2V781.3H642.6" fill="none" stroke="#1a1a1a" stroke-width="0.90"/>
<path d="M642.6 558.90h2.76" stroke="#3a3a3a" stroke-width="0.90"/>
<text transform="translate(648.94 565.03) scale(1 1.06)" font-size="15.25" class="t">3</text>
<path d="M642.6 598.70h2.76" stroke="#3a3a3a" stroke-width="0.90"/>
<text transform="translate(648.94 604.83) scale(1 1.06)" font-size="15.25" class="t">2</text>
<path d="M642.6 638.90h2.76" stroke="#3a3a3a" stroke-width="0.90"/>
<text transform="translate(648.94 645.03) scale(1 1.06)" font-size="15.25" class="t">1</text>
<path d="M642.6 678.10h2.76" stroke="#3a3a3a" stroke-width="0.90"/>
<text transform="translate(648.94 684.23) scale(1 1.06)" font-size="15.25" class="t">0</text>
<path d="M642.6 717.90h2.76" stroke="#3a3a3a" stroke-width="0.90"/>
<text transform="translate(648.94 724.03) scale(1 1.06)" font-size="15.25" class="t">−1</text>
<path d="M642.6 757.50h2.76" stroke="#3a3a3a" stroke-width="0.90"/>
<text transform="translate(648.94 763.63) scale(1 1.06)" font-size="15.25" class="t">−2</text>
<text transform="translate(685.00 668.35) rotate(-90)" font-size="15.43" text-anchor="middle" class="i">Pressure</text>
<text x="353.5" y="569.0999999999999" font-size="23.6" class="pl">(f)</text>
</g>
</svg></body></html>
